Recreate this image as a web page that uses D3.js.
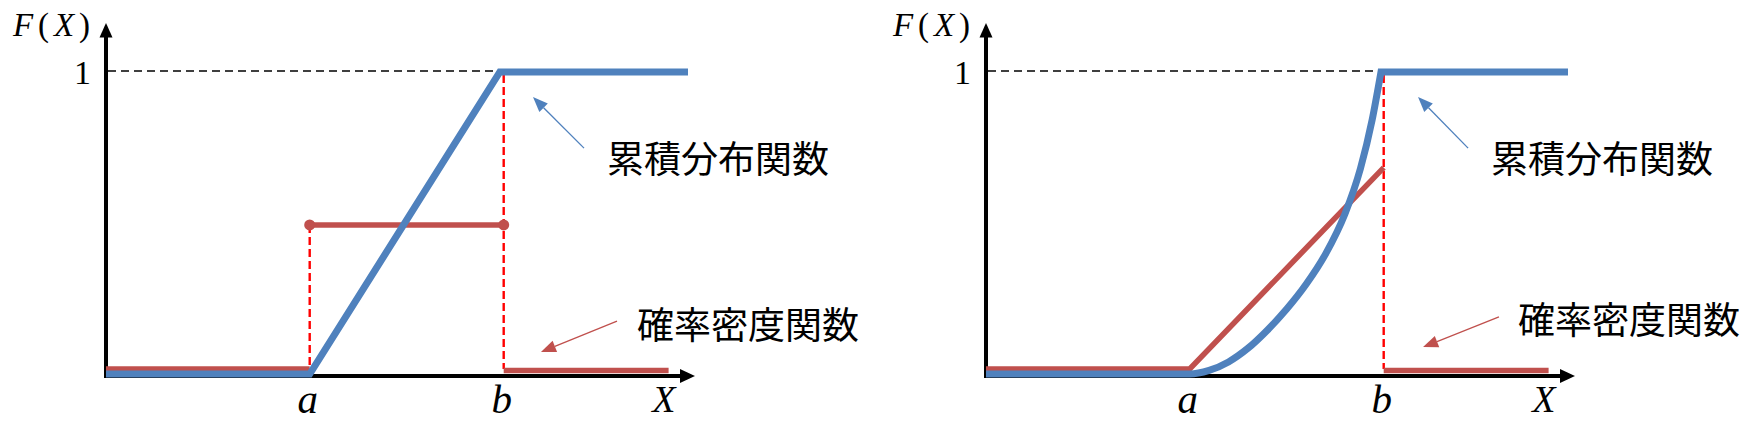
<!DOCTYPE html>
<html>
<head>
<meta charset="utf-8">
<script src="https://cdn.jsdelivr.net/npm/d3@7"></script>
<style>
  html, body { margin: 0; padding: 0; background: #ffffff; }
  svg { display: block; }
</style>
</head>
<body>
<svg id="chart" width="1761" height="427"></svg>
<script>
// ---------------- data ----------------
const xTickLabels = ["a", "b"];
const xTickValues = [1.05, 2.05];
const yTickLabels = ["1"];
const yTickValues = [1];
const yAxisLabel = "F(X)";
const xAxisLabel = "X";
const cdfLabel = "累積分布関数";
const pdfLabel = "確率密度関数";

// left panel: uniform distribution
const leftCdf = [[0, 0], [1.05, 0], [2.03, 1], [3.0, 1]];
const leftPdfLow = [[0, 0], [1.05, 0]];
const leftPdfMid = [[1.05, 0.477], [2.05, 0.477]];
const leftPdfHigh = [[2.05, 0], [2.9, 0]];

// right panel: linear density, curved cdf
const rightCdfCurve = [[0, 0], [1.05, 0], [1.15, 0.012], [1.25, 0.04], [1.35, 0.085],
  [1.45, 0.145], [1.55, 0.215], [1.65, 0.297], [1.75, 0.397], [1.85, 0.53],
  [1.93, 0.68], [1.99, 0.84], [2.036, 1.0]];
const rightCdfFlat = [[2.036, 1.0], [3.0, 1.0]];
const rightPdf = [[0, 0], [1.05, 0], [2.05, 0.667]];
const rightPdfHigh = [[2.05, 0], [2.9, 0]];

// annotation anchors (data units) per panel
const leftCdfArrow = [[2.464, 0.748], [2.201, 0.917]];
const leftPdfArrow = [[2.634, 0.175], [2.242, 0.073]];
const rightCdfArrow = [[2.485, 0.748], [2.227, 0.917]];
const rightPdfArrow = [[2.644, 0.189], [2.253, 0.089]];
const leftCdfLabelPos = [2.582, 0.719];
const leftPdfLabelPos = [2.737, 0.169];
const rightCdfLabelPos = [2.603, 0.719];
const rightPdfLabelPos = [2.742, 0.185];

// ---------------- styles ----------------
const BLUE = "#4F81BD";
const RED = "#C0504D";
const DASHRED = "#FF0000";
const svg = d3.select("#chart");

function panel(originX, cfg) {
  const x = d3.scaleLinear().domain([0, 3]).range([originX, originX + 582]);
  const y = d3.scaleLinear().domain([0, 1]).range([374, 72]);
  const g = svg.append("g");
  const line = d3.line().x(d => x(d[0])).y(d => y(d[1]));

  // black dashed y=1 reference
  g.append("line")
    .attr("x1", x(0) + 2).attr("x2", x(cfg.cornerX) - 2)
    .attr("y1", y(1) - 1).attr("y2", y(1) - 1)
    .attr("stroke", "#000").attr("stroke-width", 1.6)
    .attr("stroke-dasharray", "8,5");

  // red dashed verticals
  cfg.dashed.forEach(d => {
    g.append("line")
      .attr("x1", x(d.x)).attr("x2", x(d.x))
      .attr("y1", y(d.top) + (d.topOff || 0)).attr("y2", y(0) - 5)
      .attr("stroke", DASHRED).attr("stroke-width", 2.4)
      .attr("stroke-dasharray", "8,4");
  });

  // axes
  const axisEnd = 3.036;
  g.append("line")
    .attr("x1", x(0)).attr("x2", x(0))
    .attr("y1", y(0) + 4).attr("y2", 36)
    .attr("stroke", "#000").attr("stroke-width", 4);
  g.append("path")
    .attr("d", `M${x(0)},23 L${x(0) - 6.5},37.5 L${x(0) + 6.5},37.5 Z`)
    .attr("fill", "#000");
  g.append("line")
    .attr("x1", x(0) - 2).attr("x2", x(axisEnd) - 14)
    .attr("y1", y(0) + 2).attr("y2", y(0) + 2)
    .attr("stroke", "#000").attr("stroke-width", 4);
  g.append("path")
    .attr("d", `M${x(axisEnd)},${y(0) + 2} L${x(axisEnd) - 15},${y(0) + 2 - 7} L${x(axisEnd) - 15},${y(0) + 2 + 7} Z`)
    .attr("fill", "#000");

  // red pdf
  cfg.pdf.forEach(p => {
    g.append("path")
      .attr("d", line(p.pts))
      .attr("transform", `translate(0,${p.off})`)
      .attr("fill", "none").attr("stroke", RED)
      .attr("stroke-width", 5.5).attr("stroke-linejoin", "miter");
  });
  (cfg.dots || []).forEach(d => {
    g.append("circle")
      .attr("cx", x(d[0])).attr("cy", y(d[1]) - 5).attr("r", 5.5)
      .attr("fill", RED);
  });

  // blue cdf
  g.append("path")
    .attr("d", cfg.cdfPath(x, y))
    .attr("fill", "none").attr("stroke", BLUE)
    .attr("stroke-width", 7).attr("stroke-linejoin", "miter")
    .attr("stroke-miterlimit", 10);

  // annotation arrows
  function arrow(pts, color) {
    const [t, h] = pts.map(p => [x(p[0]), y(p[1])]);
    const ang = Math.atan2(h[1] - t[1], h[0] - t[0]);
    const L = 15, W = 6;
    const bx = h[0] - L * Math.cos(ang), by = h[1] - L * Math.sin(ang);
    g.append("line")
      .attr("x1", t[0]).attr("y1", t[1]).attr("x2", bx).attr("y2", by)
      .attr("stroke", color).attr("stroke-width", 1.3);
    g.append("path")
      .attr("d", `M${h[0]},${h[1]} L${bx + W * Math.sin(ang)},${by - W * Math.cos(ang)} L${bx - W * Math.sin(ang)},${by + W * Math.cos(ang)} Z`)
      .attr("fill", color);
  }
  arrow(cfg.cdfArrow, BLUE);
  arrow(cfg.pdfArrow, RED);

  // CJK labels
  g.append("text")
    .attr("x", x(cfg.cdfLabelPos[0])).attr("y", y(cfg.cdfLabelPos[1]))
    .attr("dominant-baseline", "central")
    .attr("font-family", "'Noto Sans CJK JP', sans-serif")
    .attr("font-size", 37).attr("fill", "#000")
    .text(cdfLabel);
  g.append("text")
    .attr("x", x(cfg.pdfLabelPos[0])).attr("y", y(cfg.pdfLabelPos[1]))
    .attr("dominant-baseline", "central")
    .attr("font-family", "'Noto Sans CJK JP', sans-serif")
    .attr("font-size", 37).attr("fill", "#000")
    .text(pdfLabel);

  // math labels
  const mathFont = "'Liberation Serif', 'DejaVu Serif', serif";
  xTickValues.forEach((v, i) => {
    g.append("text")
      .attr("x", x(v) - 2).attr("y", 413)
      .attr("text-anchor", "middle")
      .attr("font-family", mathFont).attr("font-style", "italic")
      .attr("font-size", 41).attr("fill", "#000")
      .text(xTickLabels[i]);
  });
  g.append("text")
    .attr("x", x(2.876)).attr("y", 412)
    .attr("text-anchor", "middle")
    .attr("font-family", mathFont).attr("font-style", "italic")
    .attr("font-size", 38).attr("fill", "#000")
    .text(xAxisLabel);
  yTickValues.forEach((v, i) => {
    g.append("text")
      .attr("x", x(0) - 15).attr("y", y(v) + 12)
      .attr("text-anchor", "end")
      .attr("font-family", mathFont)
      .attr("font-size", 34).attr("fill", "#000")
      .text(yTickLabels[i]);
  });
  const fx = g.append("text")
    .attr("x", x(0) - 93).attr("y", 36)
    .attr("font-family", mathFont)
    .attr("font-size", 33).attr("fill", "#000")
    .attr("textLength", 77).attr("lengthAdjust", "spacing");
  fx.append("tspan").attr("font-style", "italic").text("F");
  fx.append("tspan").text("(");
  fx.append("tspan").attr("font-style", "italic").text("X");
  fx.append("tspan").text(")");
}

// left panel
panel(106, {
  cornerX: 2.03,
  dashed: [{ x: 1.05, top: 0.477, topOff: -5 }, { x: 2.05, top: 1, topOff: 3 }],
  pdf: [
    { pts: leftPdfLow, off: -5 },
    { pts: leftPdfMid, off: -5 },
    { pts: leftPdfHigh, off: -3.5 }
  ],
  dots: [leftPdfMid[0], leftPdfMid[1]],
  cdfPath: (x, y) => d3.line().x(d => x(d[0])).y(d => y(d[1]))(leftCdf),
  cdfArrow: leftCdfArrow,
  pdfArrow: leftPdfArrow,
  cdfLabelPos: leftCdfLabelPos,
  pdfLabelPos: leftPdfLabelPos
});

// right panel
panel(986, {
  cornerX: 2.036,
  dashed: [{ x: 2.05, top: 1, topOff: 3 }],
  pdf: [
    { pts: rightPdf, off: -5 },
    { pts: rightPdfHigh, off: -3.5 }
  ],
  cdfPath: (x, y) => {
    const curve = d3.line().x(d => x(d[0])).y(d => y(d[1]))
      .curve(d3.curveMonotoneX)(rightCdfCurve);
    const flatEnd = rightCdfFlat[rightCdfFlat.length - 1];
    return curve + "L" + x(flatEnd[0]) + "," + y(flatEnd[1]);
  },
  cdfArrow: rightCdfArrow,
  pdfArrow: rightPdfArrow,
  cdfLabelPos: rightCdfLabelPos,
  pdfLabelPos: rightPdfLabelPos
});
</script>
</body>
</html>
